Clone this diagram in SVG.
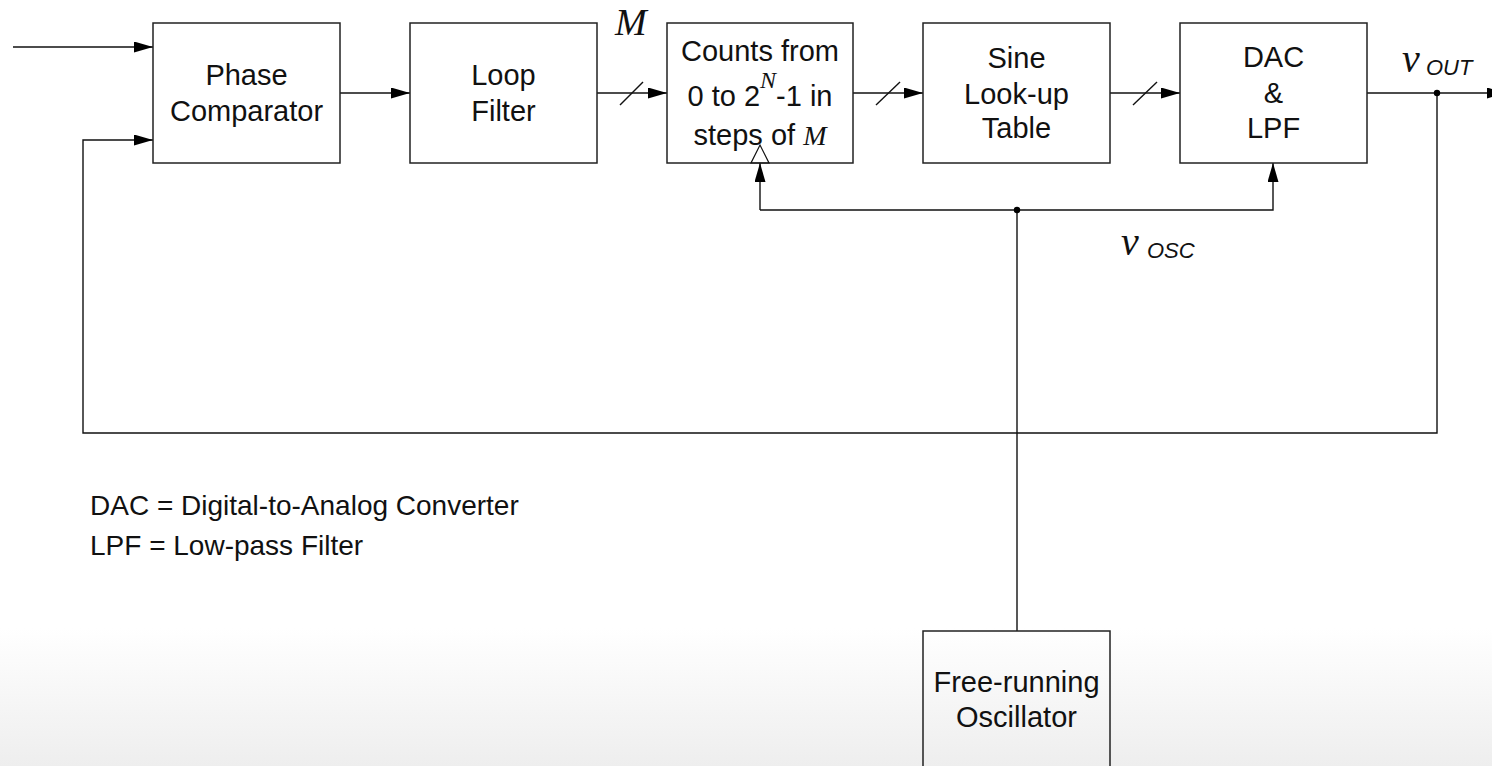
<svg xmlns="http://www.w3.org/2000/svg" width="1492" height="766" viewBox="0 0 1492 766">
<defs>
<linearGradient id="bg" x1="0" y1="0" x2="0" y2="766" gradientUnits="userSpaceOnUse">
<stop offset="0" stop-color="#ffffff"/>
<stop offset="0.82" stop-color="#ffffff"/>
<stop offset="1" stop-color="#eeeeee"/>
</linearGradient>
<marker id="arr" markerUnits="userSpaceOnUse" markerWidth="20" markerHeight="12" refX="19" refY="5.5" orient="auto">
<path d="M0,0 L19,5.5 L0,11 Z" fill="#000"/>
</marker>
</defs>
<style>
.box{fill:none;stroke:#222;stroke-width:1.5}
.ln{fill:none;stroke:#111;stroke-width:1.4}
.t{font-family:"Liberation Sans",Arial,sans-serif;font-size:29px;fill:#111;text-anchor:middle}
.lg{font-family:"Liberation Sans",Arial,sans-serif;font-size:28px;fill:#111}
.it{font-family:"Liberation Serif","Times New Roman",serif;font-style:italic;fill:#111}
.sub{font-family:"Liberation Sans",Arial,sans-serif;font-style:italic;font-size:22px;fill:#111}
</style>
<rect x="0" y="0" width="1492" height="766" fill="url(#bg)"/>

<g id="connectors">
<line class="ln" x1="13" y1="47" x2="153" y2="47" marker-end="url(#arr)"/>
<line class="ln" x1="340" y1="93" x2="410" y2="93" marker-end="url(#arr)"/>
<line class="ln" x1="597" y1="93" x2="667" y2="93" marker-end="url(#arr)"/>
<line class="ln" x1="620" y1="105" x2="643" y2="82"/>
<line class="ln" x1="853" y1="93" x2="923" y2="93" marker-end="url(#arr)"/>
<line class="ln" x1="876" y1="105" x2="900" y2="82"/>
<line class="ln" x1="1110" y1="93" x2="1180" y2="93" marker-end="url(#arr)"/>
<line class="ln" x1="1133" y1="105" x2="1157" y2="82"/>
<line class="ln" x1="1367" y1="93" x2="1506" y2="93" marker-end="url(#arr)"/>
<polyline class="ln" points="1437,93 1437,433 83,433 83,140 153,140" marker-end="url(#arr)"/>
<line class="ln" x1="760" y1="210" x2="760" y2="163" marker-end="url(#arr)"/>
<polyline class="ln" points="760,210 1273,210 1273,163" marker-end="url(#arr)"/>
<line class="ln" x1="1017" y1="210" x2="1017" y2="631"/>
<circle cx="1017" cy="210" r="3.2" fill="#000"/>
<circle cx="1437" cy="93" r="3.2" fill="#000"/>
<text class="it" x="615" y="35" font-size="38">M</text>
<text x="1402" y="72"><tspan class="it" font-size="40">v</tspan><tspan class="sub" x="1426" y="75">OUT</tspan></text>
<text x="1121" y="255"><tspan class="it" font-size="40">v</tspan><tspan class="sub" x="1147" y="258">OSC</tspan></text>
</g>

<g id="phase-comparator">
<rect class="box" x="153" y="23" width="187" height="140"/>
<text class="t" x="246.5" y="85">Phase</text>
<text class="t" x="246.5" y="121">Comparator</text>
</g>

<g id="loop-filter">
<rect class="box" x="410" y="23" width="187" height="140"/>
<text class="t" x="503.5" y="85">Loop</text>
<text class="t" x="503.5" y="121">Filter</text>
</g>

<g id="counter">
<rect class="box" x="667" y="23" width="186" height="140"/>
<text class="t" x="760" y="61">Counts from</text>
<text class="t" x="760" y="106">0 to 2<tspan class="it" font-size="24" dy="-18">N</tspan><tspan dy="18">-1 in</tspan></text>
<text class="t" x="760" y="145">steps of <tspan class="it" font-size="28">M</tspan></text>
<polygon points="751,163 769,163 760,145" fill="none" stroke="#111" stroke-width="1.2"/>
</g>

<g id="sine-table">
<rect class="box" x="923" y="23" width="187" height="140"/>
<text class="t" x="1016.5" y="68">Sine</text>
<text class="t" x="1016.5" y="104">Look-up</text>
<text class="t" x="1016.5" y="138">Table</text>
</g>

<g id="dac-lpf">
<rect class="box" x="1180" y="23" width="187" height="140"/>
<text class="t" x="1273.5" y="67">DAC</text>
<text class="t" x="1273.5" y="103">&amp;</text>
<text class="t" x="1273.5" y="138">LPF</text>
</g>

<g id="oscillator">
<rect class="box" x="923" y="631" width="187" height="160"/>
<text class="t" x="1016.5" y="692">Free-running</text>
<text class="t" x="1016.5" y="727">Oscillator</text>
</g>

<g id="legend">
<text class="lg" x="90" y="515">DAC = Digital-to-Analog Converter</text>
<text class="lg" x="90" y="555">LPF = Low-pass Filter</text>
</g>
</svg>
